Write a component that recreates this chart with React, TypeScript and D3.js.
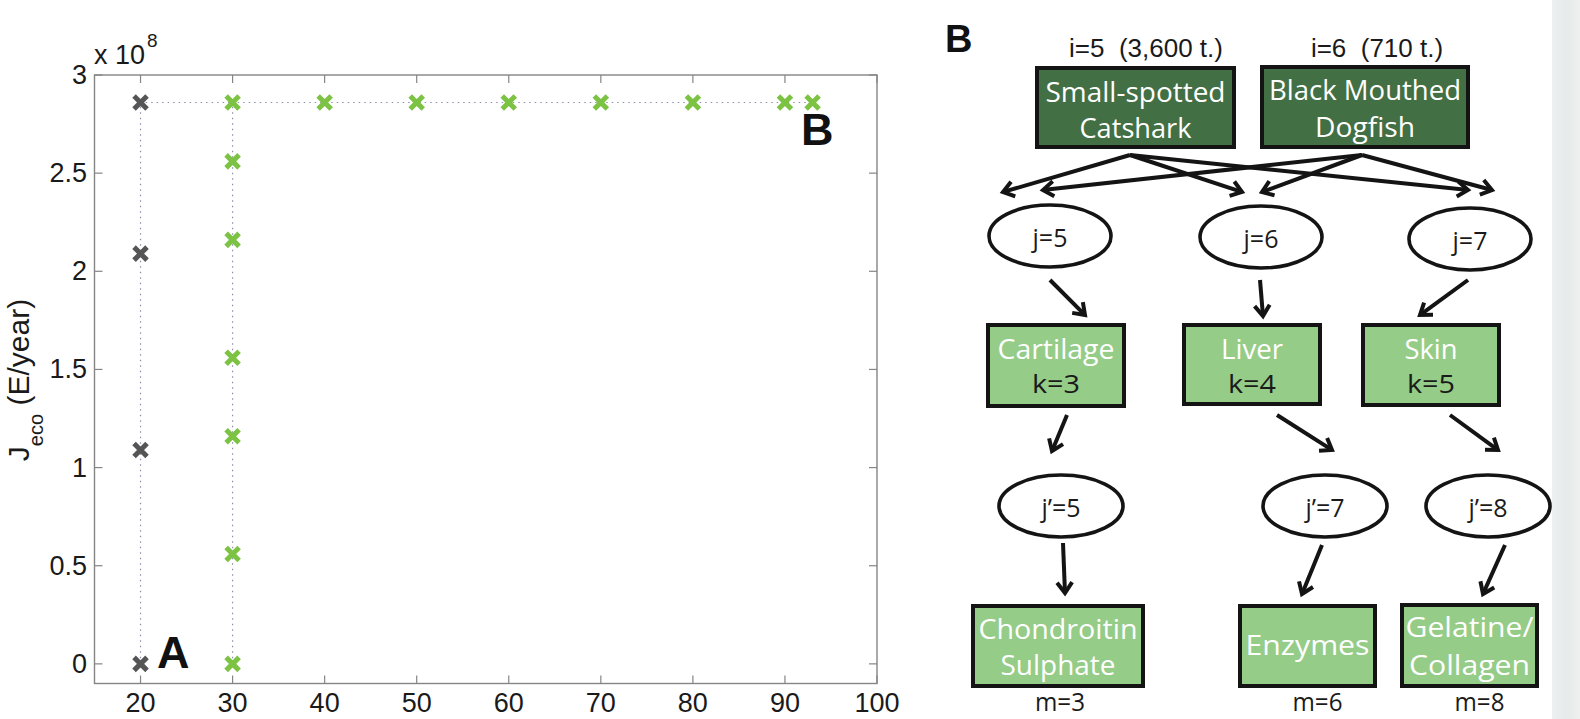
import * as d3 from "d3";

const W = 1580;
const H = 719;

// panel A: values (y in units of 1e8)
const xTicks = [20, 30, 40, 50, 60, 70, 80, 90, 100];
const yTicks = [0, 0.5, 1, 1.5, 2, 2.5, 3];
const grayX = [20, 20, 20, 20];
const grayY = [0, 1.09, 2.09, 2.86];
const greenX = [30, 30, 30, 30, 30, 30, 30, 40, 50, 60, 70, 80, 90, 93];
const greenY = [0, 0.56, 1.16, 1.56, 2.16, 2.56, 2.86, 2.86, 2.86, 2.86, 2.86, 2.86, 2.86, 2.86];

// panel B: flow diagram labels
const fishHeaders = ["i=5  (3,600 t.)", "i=6  (710 t.)"];
const fishNames = [["Small-spotted", "Catshark"], ["Black Mouthed", "Dogfish"]];
const jLabels = ["j=5", "j=6", "j=7"];
const parts = ["Cartilage", "Liver", "Skin"];
const kLabels = ["k=3", "k=4", "k=5"];
const jpLabels = ["j\u2019=5", "j\u2019=7", "j\u2019=8"];
const products = [["Chondroitin", "Sulphate"], ["Enzymes"], ["Gelatine/", "Collagen"]];
const mLabels = ["m=3", "m=6", "m=8"];

const AXIS_FONT = "'Liberation Sans', Arial, Helvetica, sans-serif";
const BOX_FONT = "'Open Sans', 'Noto Sans', sans-serif";
const DARK = "#436f44";
const LIGHT = "#95cc88";
const INK = "#141414";

const x = d3.scaleLinear().domain([15, 100]).range([94.5, 877]);
const y = d3.scaleLinear().domain([-0.1, 3]).range([683.5, 75]);

const dotted = d3
  .line<[number, number]>()
  .x((d) => x(d[0]))
  .y((d) => y(d[1]));

function XMark({ cx, cy, color }: { cx: number; cy: number; color: string }) {
  const r = 6.5;
  return (
    <path
      d={`M${cx - r},${cy - r}L${cx + r},${cy + r}M${cx - r},${cy + r}L${cx + r},${cy - r}`}
      stroke={color}
      strokeWidth={5}
      fill="none"
    />
  );
}

function Arrow({ a }: { a: number[] }) {
  const [x1, y1, x2, y2] = a;
  const ang = Math.atan2(y2 - y1, x2 - x1);
  const L = 13;
  const s = 0.62;
  const p1 = [x2 - L * Math.cos(ang - s), y2 - L * Math.sin(ang - s)];
  const p2 = [x2 - L * Math.cos(ang + s), y2 - L * Math.sin(ang + s)];
  return (
    <g stroke={INK} strokeWidth={4} fill="none">
      <line x1={x1} y1={y1} x2={x2 - 2 * Math.cos(ang)} y2={y2 - 2 * Math.sin(ang)} />
      <path d={`M${p1[0]},${p1[1]}L${x2},${y2}L${p2[0]},${p2[1]}`} strokeLinejoin="miter" />
    </g>
  );
}

// layout of the diagram
const fishBox = [
  { x: 1037, y: 68, w: 197, h: 79, hx: 1146, ly: [102, 138], tl: [180, 112] },
  { x: 1262, y: 67, w: 206, h: 80, hx: 1377, ly: [100, 137], tl: [192, 100] },
];
const jPos = [
  { cx: 1050, cy: 236 },
  { cx: 1261, cy: 237 },
  { cx: 1470, cy: 239 },
];
const partBox = [
  { x: 988, y: 325, w: 136, h: 81, tl: 117 },
  { x: 1184, y: 325, w: 136, h: 79, tl: 62 },
  { x: 1363, y: 325, w: 136, h: 80, tl: 53 },
];
const jpPos = [
  { cx: 1061, cy: 506 },
  { cx: 1325, cy: 506 },
  { cx: 1488, cy: 506 },
];
const prodBox = [
  { x: 973, y: 606, w: 170, h: 80, ly: [639, 675], tl: [159, 115] },
  { x: 1240, y: 606, w: 135, h: 80, ly: [655], tl: [124] },
  { x: 1402, y: 605, w: 135, h: 81, ly: [637, 675], tl: [128, 121] },
];
const arrows = [
  [1130, 155, 1003, 192],
  [1130, 155, 1242, 192],
  [1130, 155, 1468, 190],
  [1362, 155, 1043, 190],
  [1362, 155, 1262, 192],
  [1362, 155, 1492, 190],
  [1050, 280, 1085, 315],
  [1260, 280, 1263, 316],
  [1468, 280, 1420, 315],
  [1067, 415, 1052, 451],
  [1277, 415, 1332, 450],
  [1450, 415, 1498, 450],
  [1063, 543, 1065, 593],
  [1322, 545, 1302, 594],
  [1505, 545, 1483, 594],
];

export default function App() {
  const grayPts = grayX.map((v, i) => [v, grayY[i]] as [number, number]);
  const greenPts = greenX.map((v, i) => [v, greenY[i]] as [number, number]);
  const x0 = x.range()[0];
  const x1 = x.range()[1];
  const y0 = y.range()[0];
  const y1 = y.range()[1];

  return (
    <svg
      width={W}
      height={H}
      style={{ position: "absolute", left: 0, top: 0, background: "#fff" }}
    >
      <defs>
        <linearGradient id="strip" x1="0" x2="1" y1="0" y2="0">
          <stop offset="0" stopColor="#eef0f0" />
          <stop offset="0.5" stopColor="#e6eaea" />
          <stop offset="1" stopColor="#eef0ef" />
        </linearGradient>
      </defs>
      <rect x={0} y={0} width={W} height={H} fill="#fff" />
      <rect x={1552} y={0} width={W - 1552} height={H} fill="url(#strip)" />

      {/* ---------- panel A ---------- */}
      <rect x={x0} y={y1} width={x1 - x0} height={y0 - y1} fill="none" stroke="#858585" strokeWidth={1.4} />
      <g stroke="#858585" strokeWidth={1.2}>
        {xTicks.map((t) => (
          <g key={"xt" + t}>
            <line x1={x(t)} x2={x(t)} y1={y0} y2={y0 - 8} />
            <line x1={x(t)} x2={x(t)} y1={y1} y2={y1 + 8} />
          </g>
        ))}
        {yTicks.map((t) => (
          <g key={"yt" + t}>
            <line x1={x0} x2={x0 + 8} y1={y(t)} y2={y(t)} />
            <line x1={x1} x2={x1 - 8} y1={y(t)} y2={y(t)} />
          </g>
        ))}
      </g>
      <g fontFamily={AXIS_FONT} fontSize={27} fill="#1a1a1a">
        {xTicks.map((t) => (
          <text key={"xl" + t} x={x(t)} y={712} textAnchor="middle">
            {t}
          </text>
        ))}
        {yTicks.map((t) => (
          <text key={"yl" + t} x={87} y={y(t)} textAnchor="end" dominantBaseline="central">
            {t}
          </text>
        ))}
        <text x={94} y={64}>
          x 10
        </text>
        <text x={147} y={47} fontSize={19}>
          8
        </text>
        <text transform="translate(29,380) rotate(-90)" textAnchor="middle" fontSize={30}>
          J
          <tspan fontSize={20} dy={14}>
            eco
          </tspan>
          <tspan dy={-14}> (E/year)</tspan>
        </text>
      </g>

      <g fill="none" stroke="#8a91ad" strokeWidth={1.2} strokeDasharray="1.5,4">
        <path d={dotted([...grayPts, [greenX[6], greenY[6]]]) || ""} />
        <path d={dotted(greenPts) || ""} />
      </g>
      {grayPts.map((p, i) => (
        <XMark key={"g" + i} cx={x(p[0])} cy={y(p[1])} color="#555555" />
      ))}
      {greenPts.map((p, i) => (
        <XMark key={"n" + i} cx={x(p[0])} cy={y(p[1])} color="#7cc243" />
      ))}
      <g fontFamily={AXIS_FONT} fontWeight="bold" fontSize={45} fill="#111">
        <text x={157} y={668}>A</text>
        <text x={801} y={145}>B</text>
      </g>

      {/* ---------- panel B ---------- */}
      <text x={945} y={52} fontFamily={AXIS_FONT} fontWeight="bold" fontSize={38} fill="#111">
        B
      </text>

      {arrows.map((a, i) => (
        <Arrow key={"a" + i} a={a} />
      ))}

      {fishBox.map((b, i) => (
        <g key={"f" + i}>
          <text x={b.hx} y={57} textAnchor="middle" fontFamily={AXIS_FONT} fontSize={26} fill="#1a1a1a" style={{ whiteSpace: "pre" }}>
            {fishHeaders[i]}
          </text>
          <rect x={b.x} y={b.y} width={b.w} height={b.h} fill={DARK} stroke={INK} strokeWidth={4} />
          {fishNames[i].map((ln, k) => (
            <text
              key={k}
              x={b.x + b.w / 2}
              y={b.ly[k]}
              textAnchor="middle"
              fontFamily={BOX_FONT}
              fontSize={27}
              fill="#fff"
              textLength={b.tl[k]}
              lengthAdjust="spacingAndGlyphs"
            >
              {ln}
            </text>
          ))}
        </g>
      ))}

      {jPos.map((e, i) => (
        <g key={"j" + i}>
          <ellipse cx={e.cx} cy={e.cy} rx={61} ry={31} fill="#fff" stroke={INK} strokeWidth={3.6} />
          <text x={e.cx} y={e.cy + 11} textAnchor="middle" fontFamily={BOX_FONT} fontSize={25} fill="#1a1a1a">
            {jLabels[i]}
          </text>
        </g>
      ))}

      {partBox.map((b, i) => (
        <g key={"p" + i}>
          <rect x={b.x} y={b.y} width={b.w} height={b.h} fill={LIGHT} stroke={INK} strokeWidth={4} />
          <text
            x={b.x + b.w / 2}
            y={b.y + 34}
            textAnchor="middle"
            fontFamily={BOX_FONT}
            fontSize={27}
            fill="#fff"
            textLength={b.tl}
            lengthAdjust="spacingAndGlyphs"
          >
            {parts[i]}
          </text>
          <text
            x={b.x + b.w / 2}
            y={b.y + 68}
            textAnchor="middle"
            fontFamily={BOX_FONT}
            fontSize={25}
            fill="#1a1a1a"
            textLength={48}
            lengthAdjust="spacingAndGlyphs"
          >
            {kLabels[i]}
          </text>
        </g>
      ))}

      {jpPos.map((e, i) => (
        <g key={"jp" + i}>
          <ellipse cx={e.cx} cy={e.cy} rx={62} ry={31} fill="#fff" stroke={INK} strokeWidth={3.6} />
          <text x={e.cx} y={e.cy + 11} textAnchor="middle" fontFamily={BOX_FONT} fontSize={25} fill="#1a1a1a">
            {jpLabels[i]}
          </text>
        </g>
      ))}

      {prodBox.map((b, i) => (
        <g key={"m" + i}>
          <rect x={b.x} y={b.y} width={b.w} height={b.h} fill={LIGHT} stroke={INK} strokeWidth={4} />
          {products[i].map((ln, k) => (
            <text
              key={k}
              x={b.x + b.w / 2}
              y={b.ly[k]}
              textAnchor="middle"
              fontFamily={BOX_FONT}
              fontSize={27}
              fill="#fff"
              textLength={b.tl[k]}
              lengthAdjust="spacingAndGlyphs"
            >
              {ln}
            </text>
          ))}
          <text x={b.x + b.w / 2 + (i === 0 ? 2 : 10)} y={711} textAnchor="middle" fontFamily={BOX_FONT} fontSize={26} fill="#1a1a1a" textLength={50} lengthAdjust="spacingAndGlyphs">
            {mLabels[i]}
          </text>
        </g>
      ))}
    </svg>
  );
}
